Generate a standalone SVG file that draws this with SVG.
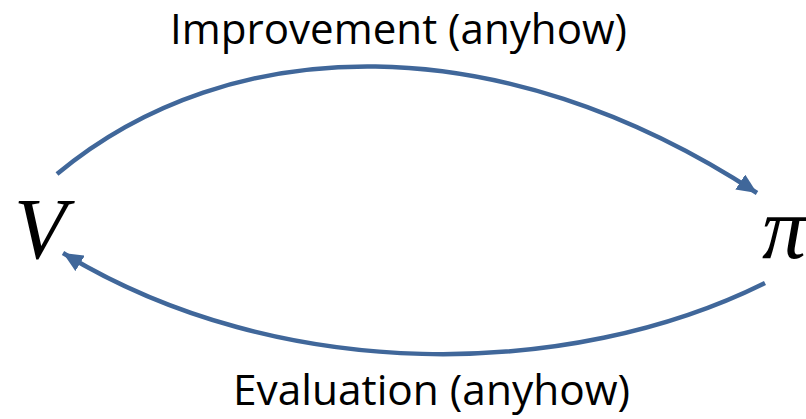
<svg xmlns="http://www.w3.org/2000/svg" width="806" height="419" viewBox="0 0 806 419">
<style>
.lbl{font-family:"Open Sans","Liberation Sans",sans-serif;font-size:42px;fill:#000}
.math{font-family:"Liberation Serif","DejaVu Serif",serif;font-style:italic;fill:#000}
.conn{fill:none;stroke:#40679A;stroke-width:4.5}
</style>
<defs>
<marker id="ah" markerUnits="userSpaceOnUse" markerWidth="22" markerHeight="18" refX="20" refY="9" orient="auto">
<path d="M0,0 L20,9 L0,18 z" fill="#40679A"/>
</marker>
</defs>
<rect width="806" height="419" fill="#fff"/>
<g id="connectors">
<path class="conn" d="M57,174 C230,30 500,25 757,193" marker-end="url(#ah)"/>
<path class="conn" d="M765,283 C570,380 280,385 63,253" marker-end="url(#ah)"/>
</g>
<g id="node-V"><text class="math" x="14" y="258" font-size="86">V</text></g>
<g id="node-pi"><text class="math" x="762" y="258" font-size="88">π</text></g>
<g id="label-improvement"><text class="lbl" x="170" y="44" textLength="457" lengthAdjust="spacingAndGlyphs">Improvement (anyhow)</text></g>
<g id="label-evaluation"><text class="lbl" x="233" y="405" textLength="397" lengthAdjust="spacingAndGlyphs">Evaluation (anyhow)</text></g>
</svg>
